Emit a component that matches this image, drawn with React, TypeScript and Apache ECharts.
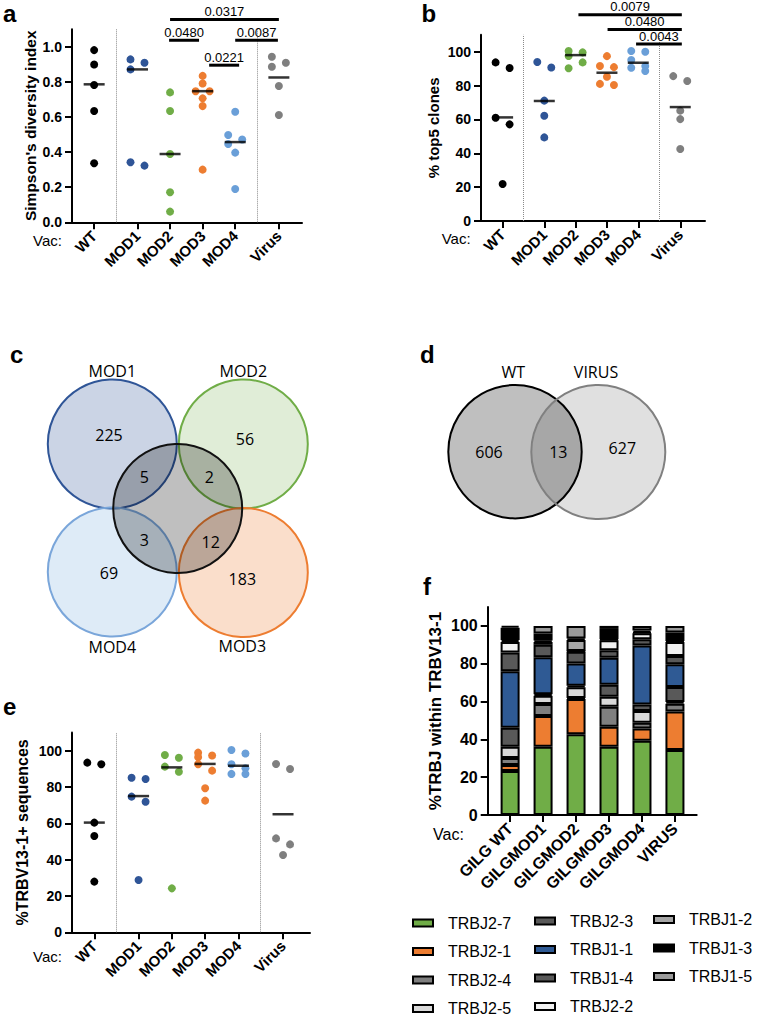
import React, { useEffect, useRef } from "react";
import * as echarts from "echarts";

// ---------- shared categories ----------
const GROUPS = ["WT", "MOD1", "MOD2", "MOD3", "MOD4", "Virus"];
const GROUP_COLORS = ["#000000", "#2f5597", "#70ad47", "#ed7d31", "#6a9fd8", "#7f7f7f"];
const Y_TICKS_FRAC = [0, 0.2, 0.4, 0.6, 0.8, 1.0];
const Y_TICKS_PCT = [0, 20, 40, 60, 80, 100];

// ---------- panel a : Simpson's diversity index ----------
const SIMPSON_WT = [0.981, 0.899, 0.782, 0.634, 0.336];
const SIMPSON_MOD1 = [0.928, 0.909, 0.871, 0.342, 0.323];
const SIMPSON_MOD2 = [0.74, 0.634, 0.389, 0.171, 0.061];
const SIMPSON_MOD3 = [0.834, 0.791, 0.747, 0.747, 0.706, 0.662, 0.3];
const SIMPSON_MOD4 = [0.63, 0.497, 0.472, 0.446, 0.397, 0.19];
const SIMPSON_VIRUS = [0.943, 0.909, 0.886, 0.776, 0.611];
const SIMPSON_CENTER = [0.786, 0.871, 0.389, 0.747, 0.457, 0.825];
const SIMPSON_SIG = [
  { p: "0.0317", from: 2.33, to: 5.67, y: 1.155 },
  { p: "0.0480", from: 2.3, to: 3.22, y: 1.037 },
  { p: "0.0087", from: 4.33, to: 5.64, y: 1.037 },
  { p: "0.0221", from: 3.53, to: 4.45, y: 0.895 },
];

// ---------- panel b : % top5 clones ----------
const TOP5_WT = [93.7, 90.4, 61.0, 57.1, 21.9];
const TOP5_MOD1 = [93.9, 90.7, 71.1, 62.2, 49.4];
const TOP5_MOD2 = [100.4, 99.6, 97.5, 93.7, 90.2];
const TOP5_MOD3 = [97.4, 91.6, 90.9, 85.2, 81.0, 80.3];
const TOP5_MOD4 = [100.4, 100.0, 95.1, 91.5, 90.5, 88.6];
const TOP5_VIRUS = [85.6, 82.7, 65.2, 60.2, 42.5];
const TOP5_CENTER = [61.2, 70.9, 98.0, 87.6, 93.5, 67.3];
const TOP5_SIG = [
  { p: "0.0079", from: 2.42, to: 5.72, y: 121.9 },
  { p: "0.0480", from: 3.35, to: 5.72, y: 113.2 },
  { p: "0.0043", from: 4.26, to: 5.72, y: 104.5 },
];

// ---------- panel e : %TRBV13-1+ sequences ----------
const TRBV_WT = [93.4, 92.5, 60.4, 53.0, 27.9];
const TRBV_MOD1 = [85.1, 84.4, 74.7, 71.9, 28.8];
const TRBV_MOD2 = [97.6, 96.1, 91.2, 88.4, 24.2];
const TRBV_MOD3 = [98.9, 97.3, 96.4, 92.5, 89.0, 79.3, 72.5];
const TRBV_MOD4 = [100.4, 98.4, 92.5, 90.3, 87.2, 87.2];
const TRBV_VIRUS = [92.7, 89.9, 51.7, 48.4, 42.6];
const TRBV_CENTER = [60.4, 75.0, 90.8, 92.7, 91.7, 65.0];

// ---------- panel c / d : Venn counts ----------
const VENN4_SETS = ["MOD1", "MOD2", "MOD3", "MOD4"];
// only-set counts, then overlaps with the shared (black) set
const VENN4_ONLY = [225, 56, 183, 69];
const VENN4_SHARED = [5, 2, 12, 3];
const VENN2_SETS = ["WT", "VIRUS"];
const VENN2_COUNTS = [606, 13, 627];

// ---------- panel f : %TRBJ within TRBV13-1 ----------
const F_CATS = ["GILG WT", "GILGMOD1", "GILGMOD2", "GILGMOD3", "GILGMOD4", "VIRUS"];
const TRBJ_NAMES = ["TRBJ2-7", "TRBJ2-1", "TRBJ2-4", "TRBJ2-5", "TRBJ2-3", "TRBJ1-1", "TRBJ1-4", "TRBJ2-2", "TRBJ1-2", "TRBJ1-3", "TRBJ1-5"];
const TRBJ2_7 = [23.3, 36.1, 42.7, 36.1, 39.3, 34.4];
const TRBJ2_1 = [3.2, 16.3, 18.7, 10.6, 6.4, 20.3];
const TRBJ2_4 = [3.6, 6.3, 0.5, 10.6, 3.1, 4.2];
const TRBJ2_5 = [6.0, 4.4, 5.7, 5.3, 6.2, 0.8];
const TRBJ2_3 = [10.0, 0.8, 0.8, 6.3, 3.4, 8.0];
const TRBJ1_1 = [29.9, 19.5, 11.7, 14.2, 31.2, 12.0];
const TRBJ1_4 = [9.9, 6.6, 6.3, 4.0, 3.4, 4.4];
const TRBJ2_2 = [5.6, 1.5, 0.3, 5.3, 3.1, 7.4];
const TRBJ1_2 = [1.0, 0.8, 5.9, 0.5, 0.5, 0.5];
const TRBJ1_3 = [6.5, 3.7, 0.8, 5.5, 1.0, 4.5];
const TRBJ1_5 = [1.0, 4.0, 6.6, 1.6, 2.4, 3.5];
const TRBJ_VALUES = [TRBJ2_7, TRBJ2_1, TRBJ2_4, TRBJ2_5, TRBJ2_3, TRBJ1_1, TRBJ1_4, TRBJ2_2, TRBJ1_2, TRBJ1_3, TRBJ1_5];

// ---------- layout / style (not data) ----------
const GROUP_X = [0, 1.33, 2.33, 3.33, 4.33, 5.67];
const F_X = [0, 1, 2, 3, 4, 5];
const TRBJ_COLORS = ["#70ad47", "#ed7d31", "#7f7f7f", "#d9d9d9", "#595959", "#2f5a94", "#595959", "#f2f2f2", "#a6a6a6", "#000000", "#9a9a9a"];
const FONT = '"Liberation Sans", Arial, sans-serif';
const VFONT = '"Open Sans", "Noto Sans", sans-serif';

const GRIDS = [
  { left: 72, top: 29.2, width: 230, height: 193.1, xMin: -0.68, xMax: 6.38, yMax: 1.1 },
  { left: 481, top: 34.8, width: 224, height: 186.2, xMin: -0.69, xMax: 6.46, yMax: 110 },
  { left: 72, top: 732.5, width: 238, height: 199.8, xMin: -0.67, xMax: 6.48, yMax: 110 },
  { left: 487.7, top: 607, width: 209, height: 208, xMin: -0.68, xMax: 5.66, yMax: 110 },
];

function swarm(values: number[], pxPerUnit: number) {
  const sorted = [...values].sort((a, b) => b - a);
  const cols: number[] = [];
  sorted.forEach((v, i) => {
    if (i === 0) { cols.push(0); return; }
    const gap = (sorted[i - 1] - v) * pxPerUnit;
    if (gap >= 7) cols.push(0);
    else if (cols[i - 1] === 0) { cols[i - 1] = -1; cols.push(1); }
    else cols.push(-cols[i - 1]);
  });
  return sorted.map((v, i) => ({ v, col: cols[i] }));
}

function groupLabel(v: number) {
  const i = GROUP_X.findIndex((x) => Math.abs(x - v) < 1e-6);
  return i >= 0 ? GROUPS[i] : "";
}

function dotPanel(idx: number, groups: number[][], centers: number[], sig: any[] | null) {
  const g = GRIDS[idx];
  const ppu = g.height / g.yMax;
  const series: any[] = groups.map((arr, gi) => ({
    type: "scatter",
    xAxisIndex: idx,
    yAxisIndex: idx,
    symbolSize: 8,
    silent: true,
    z: 3,
    itemStyle: { color: GROUP_COLORS[gi], opacity: 1 },
    data: swarm(arr, ppu).map((p) => ({ value: [GROUP_X[gi], p.v], symbolOffset: [p.col * 7, 0] })),
  }));
  series.push({
    type: "scatter",
    xAxisIndex: idx,
    yAxisIndex: idx,
    symbol: "rect",
    symbolSize: [21, 2.5],
    silent: true,
    z: 4,
    itemStyle: { color: "#000" },
    data: centers.map((c, gi) => [GROUP_X[gi], c]),
    markLine: {
      silent: true,
      symbol: ["none", "none"],
      label: { show: false },
      lineStyle: { type: "dotted", color: "#8a8a8a", width: 1 },
      data: [{ xAxis: (GROUP_X[0] + GROUP_X[1]) / 2 }, { xAxis: (GROUP_X[4] + GROUP_X[5]) / 2 }],
    },
  });
  if (sig) {
    series.push({
      type: "custom",
      xAxisIndex: idx,
      yAxisIndex: idx,
      clip: false,
      silent: true,
      z: 5,
      data: sig.map((s) => [s.from, s.to, s.y]),
      encode: { x: [0, 1], y: 2 },
      renderItem: (params: any, api: any) => {
        const s = sig[params.dataIndex];
        const p1 = api.coord([s.from, s.y]);
        const p2 = api.coord([s.to, s.y]);
        return {
          type: "group",
          children: [
            { type: "rect", shape: { x: p1[0], y: p1[1] - 1.5, width: p2[0] - p1[0], height: 3 }, style: { fill: "#000" } },
            {
              type: "text",
              x: (p1[0] + p2[0]) / 2,
              y: p1[1] - 8,
              style: { text: s.p, fill: "#000", font: `13px ${FONT}`, align: "center", verticalAlign: "middle" },
            },
          ],
        };
      },
    });
  }
  return series;
}

function makeAxes(idx: number, yTicks: number[], yFmt: (v: number) => string, yName: string, yNameSize: number, nameGap: number, xTicks: number[], xFmt: (v: number) => string, labelSize: number) {
  const g = GRIDS[idx];
  const line = { show: true, onZero: false, lineStyle: { color: "#000", width: 2 } };
  const tick = (vals: number[]) => ({ show: true, length: 7, customValues: vals, lineStyle: { color: "#000", width: 2 } });
  const xAxis = {
    type: "value",
    gridIndex: idx,
    min: g.xMin,
    max: g.xMax,
    axisLine: line,
    axisTick: tick(xTicks),
    splitLine: { show: false },
    axisLabel: {
      customValues: xTicks,
      formatter: xFmt,
      rotate: 45,
      margin: 11,
      color: "#000",
      fontWeight: "bold",
      fontSize: labelSize,
      fontFamily: FONT,
    },
  };
  const yAxis = {
    type: "value",
    gridIndex: idx,
    min: 0,
    max: g.yMax,
    axisLine: line,
    axisTick: tick(yTicks),
    splitLine: { show: false },
    axisLabel: { customValues: yTicks, formatter: yFmt, margin: 10, color: "#000", fontWeight: "bold", fontSize: labelSize === 16 ? 16 : 14, fontFamily: FONT },
    name: yName,
    nameLocation: "middle",
    nameRotate: 90,
    nameGap,
    nameMoveOverlap: false,
    nameTextStyle: { color: "#000", fontWeight: "bold", fontSize: yNameSize, fontFamily: FONT },
  };
  return { xAxis, yAxis };
}

function buildOption() {
  const axA = makeAxes(0, Y_TICKS_FRAC, (v) => v.toFixed(1), "Simpson's diversity index", 15.5, 34, GROUP_X, groupLabel, 15);
  const axB = makeAxes(1, Y_TICKS_PCT, (v) => String(v), "% top5 clones", 15, 40, GROUP_X, groupLabel, 15);
  const axE = makeAxes(2, Y_TICKS_PCT, (v) => String(v), "%TRBV13-1+ sequences", 16, 42, GROUP_X, groupLabel, 15);
  const axF = makeAxes(3, Y_TICKS_PCT, (v) => String(v), "%TRBJ within TRBV13-1", 17, 44, F_X, (v) => F_CATS[Math.round(v)] ?? "", 16);

  const series: any[] = [
    ...dotPanel(0, [SIMPSON_WT, SIMPSON_MOD1, SIMPSON_MOD2, SIMPSON_MOD3, SIMPSON_MOD4, SIMPSON_VIRUS], SIMPSON_CENTER, SIMPSON_SIG),
    ...dotPanel(1, [TOP5_WT, TOP5_MOD1, TOP5_MOD2, TOP5_MOD3, TOP5_MOD4, TOP5_VIRUS], TOP5_CENTER, TOP5_SIG),
    ...dotPanel(2, [TRBV_WT, TRBV_MOD1, TRBV_MOD2, TRBV_MOD3, TRBV_MOD4, TRBV_VIRUS], TRBV_CENTER, null),
    ...TRBJ_NAMES.map((name, i) => ({
      type: "bar",
      name,
      xAxisIndex: 3,
      yAxisIndex: 3,
      stack: "trbj",
      barWidth: 19,
      silent: true,
      itemStyle: { color: TRBJ_COLORS[i], borderColor: "#000", borderWidth: 2 },
      // value first so that the stack is taken on the y (value) dimension
      encode: { x: 1, y: 0 },
      data: TRBJ_VALUES[i].map((v, k) => [v, F_X[k]]),
    })),
  ];

  const legendCommon = {
    orient: "vertical",
    selectedMode: false,
    padding: 0,
    icon: "rect",
    itemWidth: 20,
    itemHeight: 7,
    itemGap: 8.5,
    itemStyle: { borderColor: "#000", borderWidth: 2 },
    textStyle: { color: "#000", fontSize: 16, fontFamily: FONT, lineHeight: 20, padding: [0, 0, 0, 10] },
  };
  const legend = [
    { ...legendCommon, left: 412, top: 913, data: TRBJ_NAMES.slice(0, 4) },
    { ...legendCommon, left: 534, top: 911, data: TRBJ_NAMES.slice(4, 8) },
    { ...legendCommon, left: 653, top: 909.5, data: TRBJ_NAMES.slice(8) },
  ];

  const txt = (text: string, x: number, y: number, font: string, align = "center") => ({
    type: "text",
    x,
    y,
    silent: true,
    style: { text, fill: "#000", font, align, verticalAlign: "middle" },
  });
  const circle = (cx: number, cy: number, r: number, fill: string, stroke: string) => ({
    type: "circle",
    silent: true,
    shape: { cx, cy, r },
    style: { fill, stroke, lineWidth: 2 },
  });

  const letterFont = `bold 24px ${FONT}`;
  const vacFont = `15px ${FONT}`;
  const vFont = `16px ${VFONT}`;

  const graphic: any[] = [
    txt("a", 3, 13, letterFont, "left"),
    txt("b", 421.5, 13, letterFont, "left"),
    txt("c", 10, 354.6, letterFont, "left"),
    txt("d", 420, 354.6, letterFont, "left"),
    txt("e", 3, 706.6, letterFont, "left"),
    txt("f", 423, 586.6, letterFont, "left"),
    txt("Vac:", 33, 240, vacFont, "left"),
    txt("Vac:", 441.7, 238.3, vacFont, "left"),
    txt("Vac:", 33, 956.7, vacFont, "left"),
    txt("Vac:", 433, 834, `16px ${FONT}`, "left"),
    // Venn c
    circle(112.3, 444, 64.5, "rgba(47,85,151,0.25)", "#2f5597"),
    circle(243.3, 444, 64.5, "rgba(112,173,71,0.22)", "#70ad47"),
    circle(112.3, 572, 64.5, "rgba(91,155,213,0.2)", "#7aa6da"),
    circle(243.3, 572.5, 64.5, "rgba(237,125,49,0.25)", "#ed7d31"),
    circle(177.7, 508.5, 64.5, "rgba(0,0,0,0.25)", "#111111"),
    txt(VENN4_SETS[0], 112.3, 370.7, vFont),
    txt(VENN4_SETS[1], 243.3, 370.7, vFont),
    txt(VENN4_SETS[2], 242.3, 645.7, vFont),
    txt(VENN4_SETS[3], 112.3, 646.7, vFont),
    txt(String(VENN4_ONLY[0]), 109, 435, vFont),
    txt(String(VENN4_ONLY[1]), 245, 439.3, vFont),
    txt(String(VENN4_ONLY[2]), 242.3, 579.3, vFont),
    txt(String(VENN4_ONLY[3]), 109, 572.7, vFont),
    txt(String(VENN4_SHARED[0]), 144.3, 476.7, vFont),
    txt(String(VENN4_SHARED[1]), 209.3, 476.7, vFont),
    txt(String(VENN4_SHARED[2]), 210.7, 542.3, vFont),
    txt(String(VENN4_SHARED[3]), 144.3, 540, vFont),
    // Venn d
    circle(515, 451.7, 66.7, "rgba(0,0,0,0.25)", "#000000"),
    circle(598.3, 452, 67, "rgba(0,0,0,0.12)", "#808080"),
    txt(VENN2_SETS[0], 513.3, 371.7, vFont),
    txt(VENN2_SETS[1], 596, 371.7, vFont),
    txt(String(VENN2_COUNTS[0]), 489, 451.7, vFont),
    txt(String(VENN2_COUNTS[1]), 558.3, 451.7, vFont),
    txt(String(VENN2_COUNTS[2]), 622.3, 447.7, vFont),
  ];

  return {
    animation: false,
    backgroundColor: "#ffffff",
    textStyle: { fontFamily: FONT },
    grid: GRIDS.map((g) => ({ left: g.left, top: g.top, width: g.width, height: g.height, containLabel: false, outerBoundsMode: "none" })),
    xAxis: [axA.xAxis, axB.xAxis, axE.xAxis, axF.xAxis],
    yAxis: [axA.yAxis, axB.yAxis, axE.yAxis, axF.yAxis],
    legend,
    series,
    graphic,
  };
}

export default function App() {
  const ref = useRef<HTMLDivElement>(null);
  useEffect(() => {
    if (!ref.current) return;
    const chart = echarts.init(ref.current, undefined, { renderer: "svg" });
    chart.setOption(buildOption() as any);
    return () => chart.dispose();
  }, []);
  return <div ref={ref} style={{ position: "absolute", left: 0, top: 0, width: 757, height: 1019, background: "#fff" }} />;
}
